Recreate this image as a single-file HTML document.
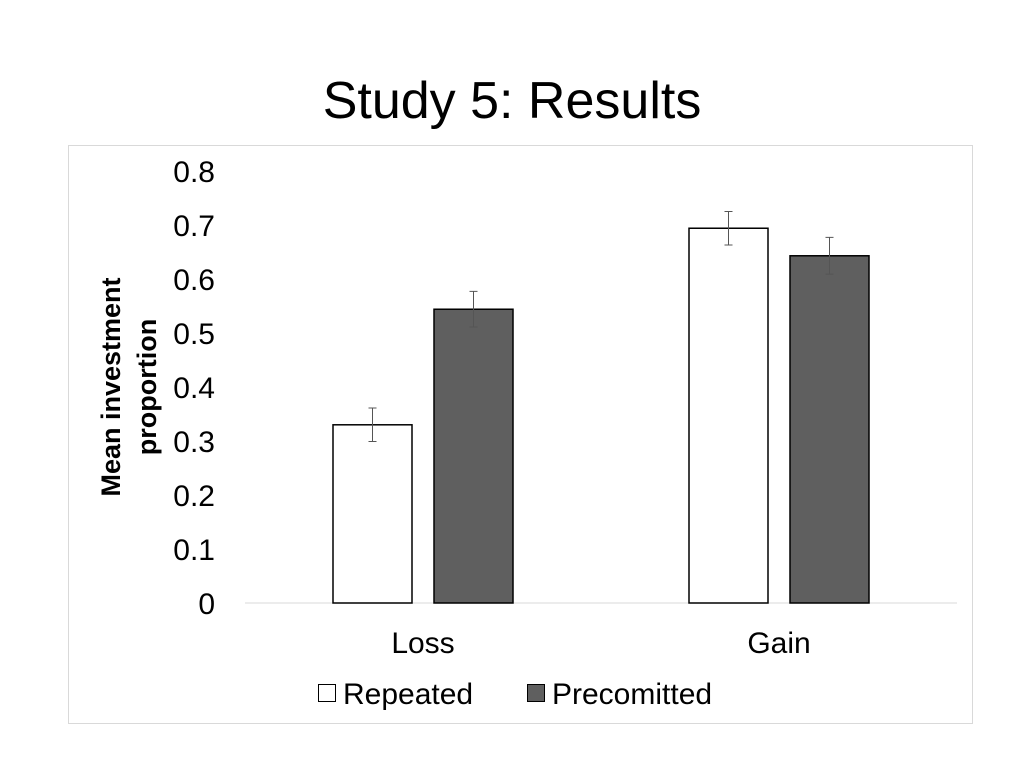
<!DOCTYPE html>
<html><head><meta charset="utf-8"><style>
body{margin:0;background:#fff;font-family:"Liberation Sans",sans-serif;}
</style></head><body>
<svg width="1024" height="768" xmlns="http://www.w3.org/2000/svg">
<text x="512" y="118" text-anchor="middle" font-size="52" font-family="Liberation Sans">Study 5: Results</text>
<rect x="68.5" y="145.5" width="904" height="578" fill="#fff" stroke="#d9d9d9"/>
<g id="yticks"></g>
<line x1="245" y1="603" x2="957" y2="603" stroke="#d9d9d9"/>
<g id="bars"></g>
<g id="xlabels"></g>
<text transform="translate(120,387) rotate(-90)" text-anchor="middle" font-size="27" font-weight="bold"><tspan x="0" dy="0">Mean investment</tspan><tspan x="0" dy="36">proportion</tspan></text>
<g>
<rect x="318.5" y="684.5" width="17" height="17" fill="#fff" stroke="#000"/>
<text x="343" y="704" font-size="30">Repeated</text>
<rect x="527.5" y="684.5" width="17" height="17" fill="#5f5f5f" stroke="#000"/>
<text x="552" y="704" font-size="30">Precomitted</text>
</g>
</svg>
<script>
const categories=["Loss","Gain"];
const repeated=[0.33,0.694];
const precommitted=[0.544,0.643];
const repeatedErr=[0.031,0.031];
const precommittedErr=[0.033,0.034];
const yTicks=[0,0.1,0.2,0.3,0.4,0.5,0.6,0.7,0.8];
const NS="http://www.w3.org/2000/svg";
const y0=603,y1=171;
function y(v){return y0-(y0-y1)*v/0.8;}
const plotL=245,plotR=957;
function xc(i){return plotL+(plotR-plotL)*(i+0.5)/categories.length;}
function mk(tag,attrs,parent){const e=document.createElementNS(NS,tag);for(const k in attrs)e.setAttribute(k,attrs[k]);parent.appendChild(e);return e;}
const yt=document.getElementById('yticks');
yTicks.forEach(t=>{const e=mk('text',{x:215,y:y(t)+11,'text-anchor':'end','font-size':30},yt);e.textContent=String(t);

});
const bg=document.getElementById('bars'),xl=document.getElementById('xlabels');
const bw=80,gap=21;
categories.forEach((c,i)=>{
 const cx=xc(i);
 [[repeated,repeatedErr,'#fff','repeated',cx-gap/2-bw],[precommitted,precommittedErr,'#5f5f5f','precommitted',cx+gap/2]].forEach(([vals,errs,fill,nm,x])=>{
  const v=vals[i];
  const r=mk('rect',{x:x+0.5,y:y(v),width:bw-1,height:y0-y(v),fill:fill,stroke:'#000','stroke-width':1.5},bg);
  
  
  const mx=x+bw/2,e=errs[i];
  const eb=mk('path',{d:`M${mx},${y(v+e)}V${y(v-e)}M${mx-4},${y(v+e)}H${mx+4}M${mx-4},${y(v-e)}H${mx+4}`,stroke:'#555','stroke-width':1,fill:'none'},bg);
  
  
 });
 const t=mk('text',{x:cx,y:653,'text-anchor':'middle','font-size':30},xl);t.textContent=c;
 
 
});
</script>
</body></html>
